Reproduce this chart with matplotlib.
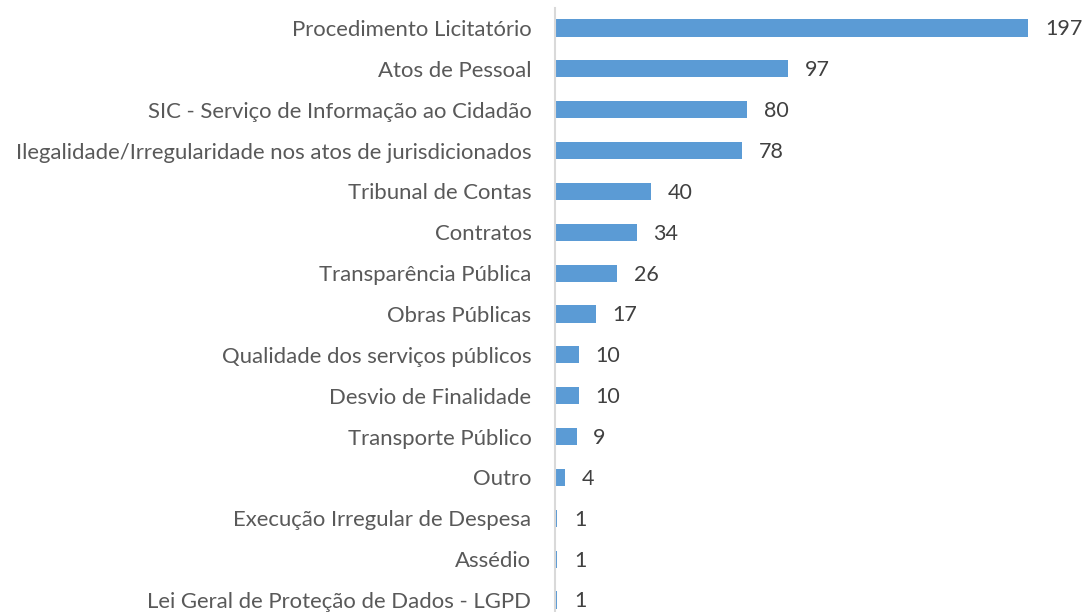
import matplotlib
matplotlib.use("Agg")
import matplotlib.pyplot as plt

categories = [
    "Procedimento Licitatório",
    "Atos de Pessoal",
    "SIC - Serviço de Informação ao Cidadão",
    "Ilegalidade/Irregularidade nos atos de jurisdicionados",
    "Tribunal de Contas",
    "Contratos",
    "Transparência Pública",
    "Obras Públicas",
    "Qualidade dos serviços públicos",
    "Desvio de Finalidade",
    "Transporte Público",
    "Outro",
    "Execução Irregular de Despesa",
    "Assédio",
    "Lei Geral de Proteção de Dados - LGPD",
]
values = [197, 97, 80, 78, 40, 34, 26, 17, 10, 10, 9, 4, 1, 1, 1]

W, H = 1086, 612
fig = plt.figure(figsize=(W / 100, H / 100), dpi=100)
left = 555 / W
top_px, bot_px = 7.6, 620.4
ax = fig.add_axes([left, 1 - bot_px / H, 1 - left, (bot_px - top_px) / H])

font = "Lato"
bar_color = "#5B9BD5"
text_color = "#595959"

y = list(range(len(categories)))
ax.barh(y, values, height=0.42, color=bar_color)
ax.set_ylim(len(categories) - 0.5, -0.5)
ax.set_xlim(0, 221)
ax.set_yticks(y)
ax.set_yticklabels(categories, fontsize=15.9, color=text_color, family=font)
ax.tick_params(axis="y", length=0, pad=17)
ax.set_xticks([])
for s in ["top", "right", "bottom"]:
    ax.spines[s].set_visible(False)
ax.spines["left"].set_color("#D9D9D9")
ax.spines["left"].set_linewidth(1.5)

for yi, v in zip(y, values):
    ax.annotate(str(v), (v, yi), xytext=(12, -1), textcoords="offset points",
                va="center", ha="left", fontsize=15.5, color="#404040", family=font)

fig.savefig("out.png", dpi=100)
